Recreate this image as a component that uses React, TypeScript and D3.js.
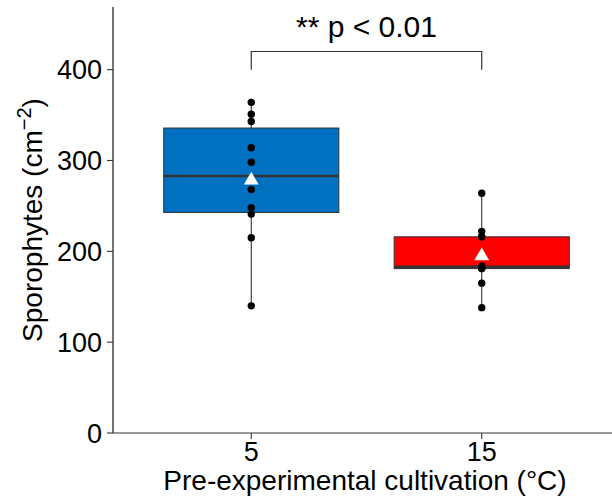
import React from 'react';
import * as d3 from 'd3';

const categories = ['5', '15'];
const group5 = [140, 215, 241, 248, 268, 298, 314, 343, 351, 364];
const group15 = [138, 165, 181, 181, 182, 184, 216, 216, 222, 264];
const groups = [group5, group15];
const fills = ['#0070C0', '#FF0000'];
const yTicks = [0, 100, 200, 300, 400];

const W = 612;
const H = 498;
const font = '"Liberation Sans", Arial, sans-serif';

const App = () => {
  const x = d3.scalePoint<string>().domain(categories).range([113, 620]).padding(0.6);
  const y = d3.scaleLinear().domain([0, 469]).range([433, 7]);
  const step = x.step();
  const boxW = step * 0.76;

  // box stats (R type-7 quantiles, 1.5 IQR whiskers)
  const stats = groups.map((vals) => {
    const s = [...vals].sort(d3.ascending);
    const q1 = d3.quantile(s, 0.25) as number;
    const med = d3.quantile(s, 0.5) as number;
    const q3 = d3.quantile(s, 0.75) as number;
    const iqr = q3 - q1;
    const lo = d3.min(s.filter((v) => v >= q1 - 1.5 * iqr)) as number;
    const hi = d3.max(s.filter((v) => v <= q3 + 1.5 * iqr)) as number;
    return { q1, med, q3, lo, hi, mean: d3.mean(s) as number, vals: s };
  });

  const tri = d3.symbol(d3.symbolTriangle, 95)();
  const bx0 = x('5') as number;
  const bx1 = x('15') as number;

  return (
    <svg width={W} height={H} style={{ position: 'absolute', left: 0, top: 0 }}>
      <rect width={W} height={H} fill="#fff" />
      {stats.map((s, i) => {
        const cx = x(categories[i]) as number;
        return (
          <g key={i}>
            <line x1={cx} x2={cx} y1={y(s.lo)} y2={y(s.hi)} stroke="#333" strokeWidth={1.1} />
            <rect x={cx - boxW / 2} y={y(s.q3)} width={boxW} height={y(s.q1) - y(s.q3)}
              fill={fills[i]} stroke="#333" strokeWidth={1} />
            <line x1={cx - boxW / 2} x2={cx + boxW / 2} y1={y(s.med)} y2={y(s.med)} stroke="#333" strokeWidth={2.6} />
            {s.vals.map((v, j) => (
              <circle key={j} cx={cx} cy={y(v)} r={3.7} fill="#000" />
            ))}
            <path d={tri as string} transform={`translate(${cx},${y(s.mean)})`} fill="#fff" />
          </g>
        );
      })}
      {/* axes */}
      <line x1={113} x2={113} y1={7} y2={433} stroke="#000" strokeWidth={1.1} />
      <line x1={113} x2={620} y1={433} y2={433} stroke="#333" strokeWidth={1.1} />
      {yTicks.map((t) => (
        <g key={t}>
          <line x1={107} x2={113} y1={y(t)} y2={y(t)} stroke="#333" strokeWidth={1.1} />
          <text x={102} y={y(t)} dy="0.36em" textAnchor="end" fontSize={27} fontFamily={font} fill="#000">{t}</text>
        </g>
      ))}
      {categories.map((c) => (
        <g key={c}>
          <line x1={x(c)} x2={x(c)} y1={433} y2={439} stroke="#333" strokeWidth={1.1} />
          <text x={x(c)} y={461} textAnchor="middle" fontSize={27} fontFamily={font} fill="#000">{c}</text>
        </g>
      ))}
      <text x={365} y={490} textAnchor="middle" fontSize={28} fontFamily={font} fill="#000">
        Pre-experimental cultivation (°C)
      </text>
      <text transform={`translate(42,${y(0) - (y(0) - y(469)) / 2}) rotate(-90)`} textAnchor="middle"
        fontSize={28} fontFamily={font} fill="#000">
        Sporophytes (cm<tspan fontSize={20} dy={-11}>−2</tspan><tspan dy={11}>)</tspan>
      </text>
      {/* significance bracket */}
      <path d={`M${bx0},${y(400)}V${y(420)}H${bx1}V${y(400)}`} fill="none" stroke="#333" strokeWidth={1.2} />
      <text x={(bx0 + bx1) / 2} y={37} textAnchor="middle" fontSize={30} fontFamily={font} fill="#000">
        ** p &lt; 0.01
      </text>
    </svg>
  );
};

export default App;
